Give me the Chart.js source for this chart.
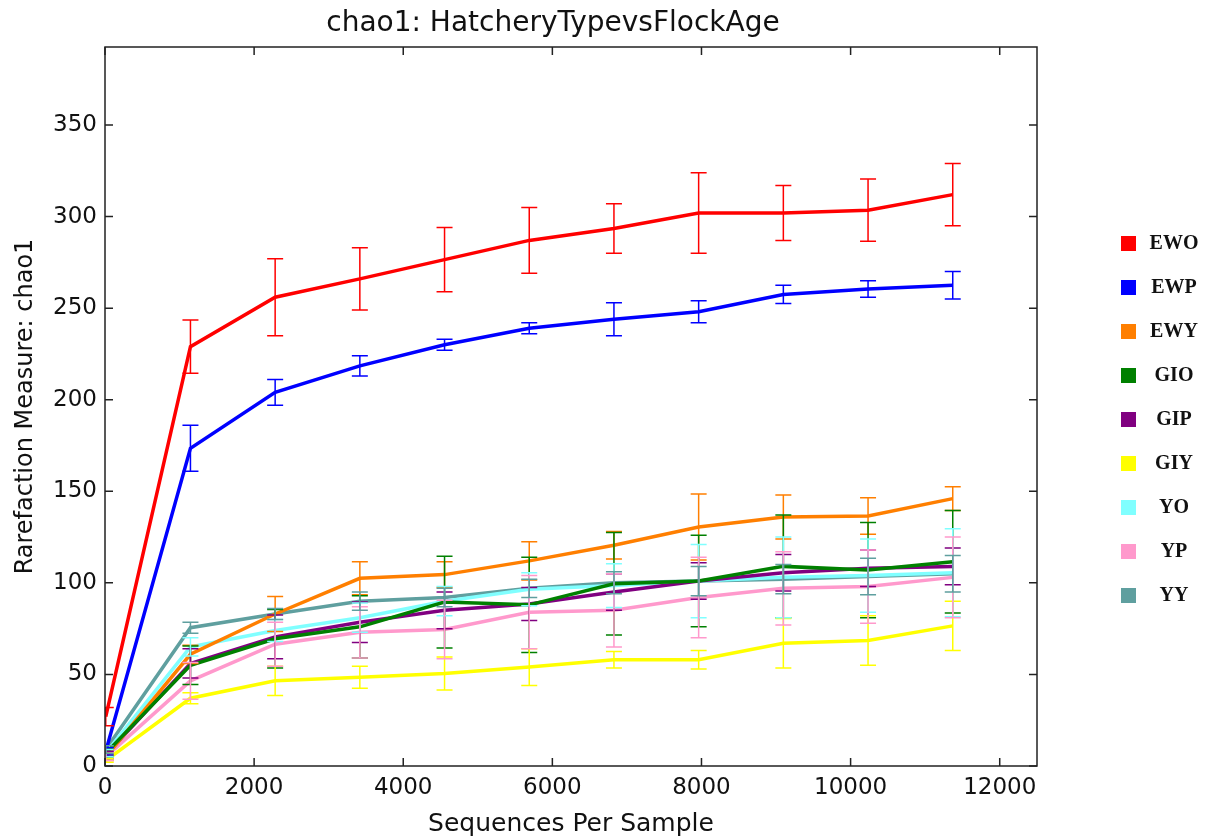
<!DOCTYPE html>
<html>
<head>
<meta charset="utf-8">
<script src="https://cdn.jsdelivr.net/npm/chart.js@4.4.1/dist/chart.umd.min.js"></script>
<style>
  html, body { margin: 0; padding: 0; background: #fff; }
  #wrap { position: relative; width: 1207px; height: 839px; }
  #legend { position: absolute; left: 0; top: 0; }
  .item { position: absolute; left: 1121px; width: 90px; height: 24px; }
  .sw { position: absolute; left: 0; top: 5px; width: 15px; height: 15px; }
  .lbl { position: absolute; left: 23px; width: 60px; text-align: center; top: 0; line-height: 24px;
         font: bold 20px "Liberation Serif", serif; color: #111; }
</style>
</head>
<body>
<div id="wrap">
  <canvas id="chart" width="1207" height="839"></canvas>
  <div id="legend"></div>
</div>
<script>
// --- Data ---
const ranks = [10, 1146, 2282, 3418, 4554, 5690, 6826, 7962, 9098, 10234, 11370];
const xTickValues = [0, 2000, 4000, 6000, 8000, 10000, 12000];
const yTickValues = [0, 50, 100, 150, 200, 250, 300, 350];
const groupNames = ['EWO', 'EWP', 'EWY', 'GIO', 'GIP', 'GIY', 'YO', 'YP', 'YY'];
const groupColors = ['#ff0000', '#0000ff', '#ff7f00', '#008000', '#800080', '#ffff00', '#80ffff', '#ff99cc', '#5f9f9f'];

const ewoMean = [27, 229, 256, 266, 276.5, 287, 293.5, 302, 302, 303.5, 312];
const ewoErr  = [5, 14.5, 21, 17, 17.5, 18, 13.5, 22, 15, 17, 17];
const ewpMean = [8, 173.5, 204, 218.5, 230, 239, 244, 248, 257.5, 260.5, 262.5];
const ewpErr  = [2, 12.5, 7, 5.5, 3, 3, 9, 6, 5, 4.5, 7.5];
const ewyMean = [5, 61, 83, 102.5, 104.5, 112, 120.5, 130.5, 136, 136.5, 146];
const ewyErr  = [2, 5, 9.5, 9, 7, 10.5, 7.5, 18, 12, 10, 6.5];
const gioMean = [7, 55, 69.5, 76, 89.5, 88, 99.5, 101, 109, 107, 111.5];
const gioErr  = [2, 10.5, 16, 17, 25, 26, 28, 25, 28, 26, 28];
const gipMean = [6, 56, 70.5, 78.5, 85, 88.5, 95, 101, 105.5, 108, 109];
const gipErr  = [2, 8, 12, 11, 10, 9, 10, 10, 10, 10, 10];
const giyMean = [3, 37, 46.5, 48.5, 50.5, 54, 58, 58, 67, 68.5, 76.5];
const giyErr  = [1, 3, 8, 6, 9, 10, 4.5, 5, 13.5, 13.5, 13.5];
const yoMean  = [7, 65, 74, 81, 90, 96.5, 98.5, 101, 103, 104, 105.5];
const yoErr   = [2, 5, 6, 8, 8, 9, 12, 20, 22, 20, 24];
const ypMean  = [5, 46.5, 66.5, 73, 74.5, 84, 85, 92, 97, 98, 103];
const ypErr   = [2, 10, 12, 14, 16, 20, 20, 22, 20, 20, 22];
const yyMean  = [9, 75.5, 83, 90, 92, 97, 100, 101, 102, 103.5, 105];
const yyErr   = [2, 3, 3, 5, 5, 5, 6, 8, 8, 10, 10];

const means = [ewoMean, ewpMean, ewyMean, gioMean, gipMean, giyMean, yoMean, ypMean, yyMean];
const errs  = [ewoErr, ewpErr, ewyErr, gioErr, gipErr, giyErr, yoErr, ypErr, yyErr];

const titleText = 'chao1: HatcheryTypevsFlockAge';

// --- Plugins ---
// draws error bars with caps for each point
const errorBars = {
  id: 'errorBars',
  afterDatasetsDraw(chart) {
    const { ctx, chartArea, scales: { x, y } } = chart;
    ctx.save();
    ctx.beginPath();
    ctx.rect(chartArea.left, chartArea.top, chartArea.right - chartArea.left, chartArea.bottom - chartArea.top);
    ctx.clip();
    chart.data.datasets.forEach(ds => {
      ctx.strokeStyle = ds.borderColor;
      ctx.lineWidth = 1.5;
      ds.data.forEach((p, j) => {
        const e = ds.errors[j];
        const px = x.getPixelForValue(p.x);
        const top = y.getPixelForValue(p.y + e);
        const bot = y.getPixelForValue(p.y - e);
        ctx.beginPath();
        ctx.moveTo(px, top); ctx.lineTo(px, bot);
        ctx.moveTo(px - 8, top); ctx.lineTo(px + 8, top);
        ctx.moveTo(px - 8, bot); ctx.lineTo(px + 8, bot);
        ctx.stroke();
      });
    });
    ctx.restore();
  }
};

// matplotlib style box with inward ticks on all four sides, plus the title
const frameBox = {
  id: 'frameBox',
  afterDraw(chart) {
    const { ctx, chartArea: a, scales: { x, y } } = chart;
    ctx.save();
    ctx.strokeStyle = '#222';
    ctx.lineWidth = 1.5;
    ctx.strokeRect(a.left, a.top, a.right - a.left, a.bottom - a.top);
    ctx.beginPath();
    x.ticks.forEach(t => {
      const px = x.getPixelForValue(t.value);
      ctx.moveTo(px, a.bottom); ctx.lineTo(px, a.bottom - 8);
      ctx.moveTo(px, a.top); ctx.lineTo(px, a.top + 8);
    });
    y.ticks.forEach(t => {
      const py = y.getPixelForValue(t.value);
      ctx.moveTo(a.left, py); ctx.lineTo(a.left + 8, py);
      ctx.moveTo(a.right, py); ctx.lineTo(a.right - 8, py);
    });
    ctx.stroke();

    // title sits a bit left of the axes centre in the reference
    ctx.fillStyle = '#111';
    ctx.font = '28px "DejaVu Sans"';
    ctx.textAlign = 'center';
    ctx.textBaseline = 'middle';
    ctx.fillText(titleText, (a.left + a.right) / 2 - 18, 24);
    ctx.restore();
  }
};

const datasets = groupNames.map((name, i) => ({
  label: name,
  data: ranks.map((r, j) => ({ x: r, y: means[i][j] })),
  errors: errs[i],
  borderColor: groupColors[i],
  backgroundColor: groupColors[i],
  borderWidth: 3.5,
  pointRadius: 0,
  tension: 0,
  order: i === 3 ? -1 : i
}));

const tickFont = { family: 'DejaVu Sans', size: 23 };

new Chart(document.getElementById('chart'), {
  type: 'line',
  data: { datasets: datasets },
  options: {
    responsive: false,
    animation: false,
    devicePixelRatio: 1,
    layout: { padding: { left: 0, right: 170, top: 47, bottom: 0 } },
    plugins: {
      legend: { display: false },
      tooltip: { enabled: false },
      title: { display: false }
    },
    scales: {
      x: {
        type: 'linear',
        min: 0,
        max: 12500,
        ticks: { color: '#111', font: tickFont, padding: 8, maxRotation: 0, autoSkip: false,
                 callback: v => String(v) },
        afterBuildTicks: s => { s.ticks = xTickValues.map(v => ({ value: v })); },
        afterFit: s => { s.height = 73; },
        grid: { display: false, drawTicks: false },
        border: { display: false },
        title: {
          display: true,
          text: 'Sequences Per Sample',
          color: '#111',
          font: { family: 'DejaVu Sans', size: 25 },
          padding: { top: 0, bottom: 0 }
        }
      },
      y: {
        min: 0,
        max: 392.6,
        ticks: { color: '#111', font: tickFont, padding: 8, autoSkip: false,
                 callback: v => String(v) },
        afterBuildTicks: s => { s.ticks = yTickValues.map(v => ({ value: v })); },
        afterFit: s => { s.width = 105; },
        grid: { display: false, drawTicks: false },
        border: { display: false },
        title: {
          display: true,
          text: 'Rarefaction Measure: chao1',
          color: '#111',
          font: { family: 'DejaVu Sans', size: 24 },
          padding: { top: 11, bottom: 0 }
        }
      }
    }
  },
  plugins: [errorBars, frameBox]
});

// --- HTML legend on the right ---
const legend = document.getElementById('legend');
groupNames.forEach((name, i) => {
  const item = document.createElement('div');
  item.className = 'item';
  item.style.top = (243 - 12 + i * 44) + 'px';
  item.innerHTML = `<div class="sw" style="background:${groupColors[i]}"></div><div class="lbl">${name}</div>`;
  legend.appendChild(item);
});
</script>
</body>
</html>
